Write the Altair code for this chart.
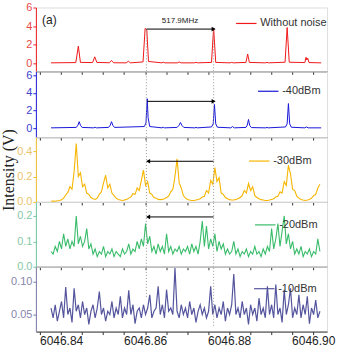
import altair as alt
import pandas as pd

X_MIN, X_MAX = 6046.834, 6046.9033
X_TICKS = [6046.835, 6046.840, 6046.845, 6046.850, 6046.855, 6046.860, 6046.865,
           6046.870, 6046.875, 6046.880, 6046.885, 6046.890, 6046.895, 6046.900]

# Panel 1: without noise (red)
P1_X = [6046.8376, 6046.8435, 6046.8441, 6046.8446, 6046.8475, 6046.8480, 6046.8485,
        6046.8515, 6046.8520, 6046.8525, 6046.8555, 6046.8560, 6046.8565, 6046.8595,
        6046.8600, 6046.8604, 6046.8608, 6046.8640, 6046.8643, 6046.8647, 6046.8677,
        6046.8681, 6046.8685, 6046.8717, 6046.8721, 6046.8725, 6046.8758, 6046.8763,
        6046.8768, 6046.8802, 6046.8806, 6046.8810, 6046.8840, 6046.8844, 6046.8848,
        6046.8886, 6046.8890, 6046.8894, 6046.8933, 6046.8938, 6046.8943, 6046.8980,
        6046.8983, 6046.8985, 6046.8987, 6046.8990, 6046.9019]
P1_Y = [0.05, 0.08, 1.85, 0.10, 0.08, 0.70, 0.10,
        0.06, 0.30, 0.06, 0.05, 0.22, 0.05, 0.15,
        3.75, 3.60, 0.20, 0.05, 0.12, 0.05, 0.05,
        0.15, 0.05, 0.05, 0.10, 0.05, 0.10, 3.80,
        0.10, 0.05, 0.10, 0.05, 0.10, 1.00, 0.10,
        0.05, 0.10, 0.05, 0.12, 3.85, 0.12, 0.08,
        0.65, 0.35, 0.55, 0.08, 0.05]

# Panel 2: -40 dBm (blue)
P2_X = [6046.8376, 6046.8436, 6046.8440, 6046.8443, 6046.8446, 6046.8450, 6046.8478,
        6046.8481, 6046.8484, 6046.8513, 6046.8517, 6046.8520, 6046.8523, 6046.8527,
        6046.8598, 6046.8602, 6046.8605, 6046.8607, 6046.8611, 6046.8640, 6046.8643,
        6046.8646, 6046.8676, 6046.8680, 6046.8684, 6046.8688, 6046.8692, 6046.8718,
        6046.8721, 6046.8724, 6046.8758, 6046.8762, 6046.8765, 6046.8768, 6046.8772,
        6046.8804, 6046.8808, 6046.8812, 6046.8840, 6046.8843, 6046.8846, 6046.8849,
        6046.8853, 6046.8887, 6046.8890, 6046.8893, 6046.8934, 6046.8938, 6046.8941,
        6046.8944, 6046.8948, 6046.8980, 6046.8984, 6046.8988, 6046.9019]
P2_Y = [0.05, 0.10, 0.35, 0.75, 0.35, 0.10, 0.05,
        0.12, 0.05, 0.10, 0.35, 0.75, 0.35, 0.10,
        0.20, 0.60, 3.35, 1.20, 0.20, 0.05, 0.12,
        0.05, 0.10, 0.30, 0.65, 0.30, 0.10, 0.05,
        0.10, 0.05, 0.15, 0.50, 2.70, 0.50, 0.12,
        0.05, 0.20, 0.05, 0.10, 0.35, 1.00, 0.30,
        0.08, 0.05, 0.10, 0.05, 0.15, 0.50, 2.80,
        0.50, 0.12, 0.05, 0.15, 0.05, 0.05]

# Sampling grid of the noisy traces
GRID_X0 = 6046.8376
GRID_DX = 0.0005

# Panel 3: -30 dBm (orange)
P3_Y = [0.005, 0.007, 0.006, 0.010, 0.012, 0.018, 0.030, 0.055, 0.075, 0.12,
        0.10, 0.24, 0.46, 0.20, 0.23, 0.12, 0.14, 0.07, 0.06, 0.035,
        0.025, 0.02, 0.03, 0.06, 0.08, 0.15, 0.21, 0.11, 0.14, 0.07,
        0.05, 0.03, 0.02, 0.015, 0.012, 0.016, 0.02, 0.03, 0.04, 0.065,
        0.06, 0.11, 0.09, 0.17, 0.25, 0.13, 0.16, 0.07, 0.06, 0.035,
        0.03, 0.02, 0.018, 0.02, 0.025, 0.035, 0.045, 0.08, 0.10, 0.20,
        0.34, 0.15, 0.11, 0.05, 0.03, 0.02, 0.015, 0.012, 0.012, 0.015,
        0.02, 0.025, 0.04, 0.045, 0.09, 0.07, 0.17, 0.14, 0.27, 0.16,
        0.19, 0.07, 0.06, 0.035, 0.025, 0.018, 0.015, 0.015, 0.02, 0.025,
        0.035, 0.05, 0.09, 0.07, 0.145, 0.09, 0.12, 0.05, 0.035, 0.025,
        0.018, 0.015, 0.012, 0.012, 0.015, 0.02, 0.025, 0.04, 0.045, 0.08,
        0.07, 0.16, 0.13, 0.29, 0.22, 0.10, 0.09, 0.045, 0.03, 0.02,
        0.015, 0.012, 0.015, 0.02, 0.03, 0.05, 0.06, 0.11, 0.14]

# Panel 4: -20 dBm (green)
P4_Y = [0.06, 0.05, 0.08, 0.06, 0.10, 0.07, 0.13, 0.08, 0.11, 0.07,
        0.10, 0.08, 0.20, 0.09, 0.12, 0.08, 0.10, 0.15, 0.07, 0.09,
        0.05, 0.07, 0.04, 0.06, 0.05, 0.08, 0.04, 0.06, 0.05, 0.07,
        0.04, 0.06, 0.05, 0.04, 0.07, 0.05, 0.06, 0.09, 0.05, 0.07,
        0.06, 0.10, 0.07, 0.11, 0.08, 0.17, 0.09, 0.12, 0.06, 0.08,
        0.05, 0.09, 0.06, 0.08, 0.05, 0.13, 0.06, 0.08, 0.05, 0.07,
        0.06, 0.08, 0.05, 0.07, 0.06, 0.08, 0.05, 0.09, 0.06, 0.08,
        0.05, 0.10, 0.18, 0.08, 0.16, 0.07, 0.11, 0.08, 0.13, 0.06,
        0.10, 0.07, 0.09, 0.05, 0.07, 0.05, 0.06, 0.10, 0.05, 0.07,
        0.04, 0.06, 0.05, 0.07, 0.04, 0.06, 0.05, 0.08, 0.05, 0.06,
        0.04, 0.07, 0.05, 0.08, 0.06, 0.15, 0.07, 0.11, 0.17, 0.08,
        0.14, 0.20, 0.09, 0.13, 0.07, 0.10, 0.05, 0.07, 0.05, 0.08,
        0.04, 0.06, 0.05, 0.07, 0.04, 0.06, 0.05, 0.11, 0.06]

# Panel 5: -10 dBm (purple)
P5_Y = [0.060, 0.045, 0.065, 0.040, 0.055, 0.070, 0.045, 0.092, 0.050, 0.060,
        0.038, 0.090, 0.055, 0.065, 0.045, 0.070, 0.050, 0.060, 0.035, 0.055,
        0.065, 0.045, 0.060, 0.085, 0.050, 0.060, 0.040, 0.055, 0.050, 0.070,
        0.045, 0.060, 0.050, 0.078, 0.045, 0.060, 0.050, 0.087, 0.050, 0.065,
        0.036, 0.055, 0.060, 0.045, 0.065, 0.050, 0.060, 0.080, 0.045, 0.055,
        0.060, 0.093, 0.050, 0.065, 0.045, 0.088, 0.055, 0.060, 0.050, 0.121,
        0.055, 0.045, 0.065, 0.050, 0.060, 0.045, 0.070, 0.050, 0.060, 0.038,
        0.055, 0.065, 0.050, 0.060, 0.045, 0.055, 0.093, 0.050, 0.065, 0.045,
        0.060, 0.050, 0.070, 0.040, 0.060, 0.050, 0.065, 0.112, 0.050, 0.060,
        0.045, 0.070, 0.050, 0.060, 0.035, 0.065, 0.050, 0.060, 0.040, 0.075,
        0.050, 0.060, 0.045, 0.093, 0.050, 0.065, 0.045, 0.096, 0.050, 0.060,
        0.038, 0.088, 0.050, 0.065, 0.090, 0.045, 0.060, 0.050, 0.080, 0.045,
        0.065, 0.050, 0.078, 0.036, 0.060, 0.050, 0.072, 0.045, 0.055]

LABELS = ["Without noise", "-40dBm", "-30dBm", "-20dBm", "-10dBm"]
MARK_X = [6046.8603, 6046.8763]   # dotted guide positions
SPAN_TEXT = "517.9MHz"

LINE_COLORS = ["#F01818", "#1818D8", "#F7B500", "#38BC6A", "#55559E"]
TICK_COLORS = ["#E84848", "#4040D0", "#EAC46E", "#86C9A5", "#8686AA"]
AXIS_COLORS = ["#F02020", "#2020D8", "#F2C030", "#70C8A0", "#7A7AA8"]
LINE_WIDTHS = [1, 1, 1.1, 1.1, 1.2]

Y_DOMAINS = [[-0.86, 6.0], [-1.0, 6.45], [0.0, 0.51], [0.0, 0.255], [0.024, 0.123]]
Y_TICKS = [[0, 2, 4, 6], [0, 2, 4, 6], [0.0, 0.2, 0.4], [0.0, 0.1, 0.2], [0.05, 0.10]]
Y_FMT = ["d", "d", ".1f", ".1f", ".2f"]
HEIGHTS = [64, 66, 65, 65, 65]
LEGEND_POS = [(200, 5), (222, 9), (213, 13), (219, 12), (218, 11)]

# arrows: (x start, x end, y, head side)
ARROWS = [(6046.8603, 6046.8763, 3.68, "right"),
          (6046.8605, 6046.8763, 3.05, "right"),
          (6046.8607, 6046.8763, 0.32, "left"),
          (6046.8607, 6046.8763, 0.196, "left")]
# dotted guide extents per panel: list of (x, y1, y2)
GUIDES = [[(6046.8603, -0.86, 3.68), (6046.8763, -0.86, 3.68)],
          [(6046.8603, -1.0, 6.45), (6046.8763, -1.0, 6.45)],
          [(6046.8603, 0.0, 0.51), (6046.8763, 0.0, 0.51)],
          [(6046.8603, 0.0, 0.255), (6046.8763, 0.0, 0.255)],
          [(6046.8603, 0.077, 0.123), (6046.8763, 0.033, 0.123)]]

FONT = "Liberation Sans"
W = 292

grid_x = [GRID_X0 + GRID_DX * i for i in range(len(P3_Y))]
series = [(P1_X, P1_Y), (P2_X, P2_Y), (grid_x, P3_Y), (grid_x, P4_Y), (grid_x, P5_Y)]

xscale = alt.Scale(domain=[X_MIN, X_MAX], nice=False, zero=False)

panels = []
for k in range(5):
    xs, ys = series[k]
    df = pd.DataFrame({"x": xs, "y": ys, "series": LABELS[k]})
    yscale = alt.Scale(domain=Y_DOMAINS[k], nice=False, zero=False)
    last = (k == 4)
    if last:
        xaxis = alt.Axis(values=X_TICKS, title=None, grid=False, tickSize=3,
                         tickColor="#333", domainColor="#333",
                         labelExpr="abs(round(datum.value*1000) % 20) == 0 ? format(datum.value, '.2f') : ''",
                         labelFont=FONT, labelFontSize=12, labelColor="#222",
                         labelPadding=1, labelOverlap=False, labelFlush=False)
    else:
        xaxis = alt.Axis(values=X_TICKS, title=None, grid=False, tickSize=3,
                         tickColor="#333", domainColor="#333", labels=False)
    yaxis_kw = dict(values=Y_TICKS[k], format=Y_FMT[k], grid=False, tickSize=3,
                    tickColor=AXIS_COLORS[k], domainColor=AXIS_COLORS[k],
                    labelColor=TICK_COLORS[k], labelFont=FONT, labelFontSize=11,
                    labelPadding=1, labelOverlap=False, labelFlush=False)
    if k == 2:
        yaxis = alt.Axis(title="Intensity (V)", titleFont="Liberation Serif",
                         titleFontSize=16, titleFontWeight="normal", titleColor="#222",
                         titlePadding=0, **yaxis_kw)
    else:
        yaxis = alt.Axis(title=None, **yaxis_kw)

    def X(field):
        return alt.X(field, scale=xscale, axis=xaxis)

    def Y(field):
        return alt.Y(field, scale=yscale, axis=yaxis)

    lx, ly = LEGEND_POS[k]
    line = alt.Chart(df).mark_line(strokeWidth=LINE_WIDTHS[k], clip=True).encode(
        x=X("x:Q"),
        y=Y("y:Q"),
        color=alt.Color("series:N",
                        scale=alt.Scale(domain=[LABELS[k]], range=[LINE_COLORS[k]]),
                        legend=alt.Legend(title=None, orient="none", legendX=lx, legendY=ly,
                                          symbolType="stroke", symbolSize=420,
                                          symbolStrokeWidth=1.2, labelFont=FONT,
                                          labelFontSize=11, labelColor="#333",
                                          padding=0, labelOffset=3)),
    )

    gdf = pd.DataFrame(GUIDES[k], columns=["x", "y1", "y2"])
    guides = alt.Chart(gdf).mark_rule(color="#9a9a9a", strokeDash=[1, 2], strokeWidth=1).encode(
        x=X("x:Q"), y=Y("y1:Q"), y2="y2:Q")

    layers = [line, guides]

    if k < 4:
        x1, x2, ya, side = ARROWS[k]
        adf = pd.DataFrame({"x": [x1], "x2": [x2], "y": [ya]})
        arrow_line = alt.Chart(adf).mark_rule(color="black", strokeWidth=1).encode(
            x=X("x:Q"), x2="x2:Q", y=Y("y:Q"))
        hx = x2 if side == "right" else x1
        hdf = pd.DataFrame({"x": [hx], "y": [ya]})
        head = alt.Chart(hdf).mark_point(shape="triangle-" + side, filled=True, size=22,
                                         color="black", opacity=1).encode(
            x=X("x:Q"), y=Y("y:Q"))
        layers += [arrow_line, head]

    if k == 0:
        tdf = pd.DataFrame({"x": [(MARK_X[0] + MARK_X[1]) / 2], "y": [4.55], "t": [SPAN_TEXT]})
        span = alt.Chart(tdf).mark_text(font=FONT, fontSize=8, color="#222").encode(
            x=X("x:Q"), y=Y("y:Q"), text="t:N")
        adf2 = pd.DataFrame({"x": [6046.8372], "y": [4.65], "t": ["(a)"]})
        lab = alt.Chart(adf2).mark_text(font=FONT, fontSize=12, color="#222").encode(
            x=X("x:Q"), y=Y("y:Q"), text="t:N")
        layers += [span, lab]

    panel = alt.layer(*layers).properties(width=W, height=HEIGHTS[k])
    panels.append(panel)

chart = alt.vconcat(*panels, spacing=0, bounds="flush").resolve_scale(
    color="independent", y="independent"
).properties(
    padding={"left": 0, "top": 0, "right": 14, "bottom": 20}
).configure_view(stroke="#333", strokeWidth=1).configure(background="white")

chart.save("out.html", embed_options={"renderer": "svg", "actions": False})
